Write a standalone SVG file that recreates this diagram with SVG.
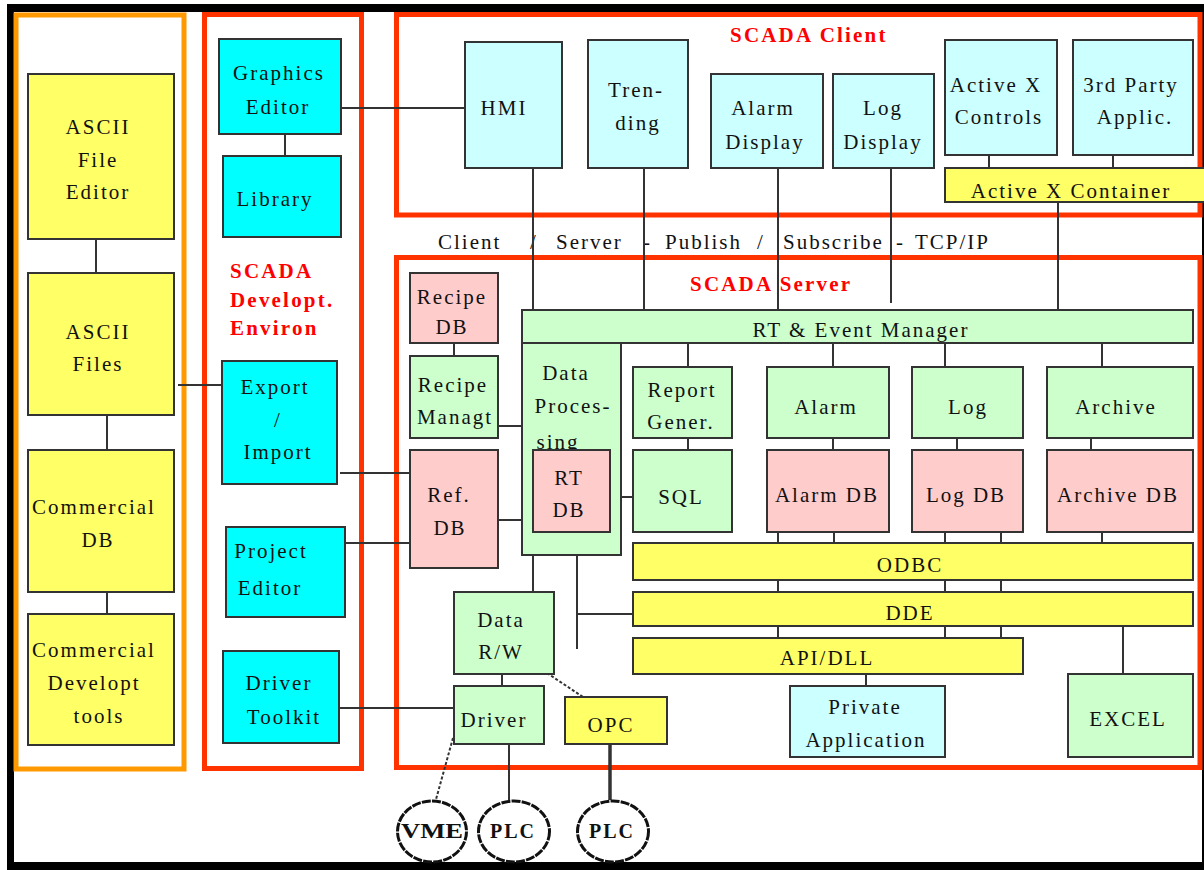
<svg xmlns="http://www.w3.org/2000/svg" width="1204" height="870" viewBox="0 0 1204 870">
<defs>
<style>
.bx{stroke:#333;stroke-width:2}
.yl{fill:#FFFF66}
.cy{fill:#00FFFF}
.lc{fill:#CCFFFF}
.gr{fill:#CCFFCC}
.pk{fill:#FFCCCC}
.grp{fill:none;stroke-width:5}
.red{stroke:#FF3300}
.org{stroke:#FF9900}
text{font-family:"Liberation Serif","Times New Roman",serif;font-size:21px;fill:#111;letter-spacing:2px;text-anchor:middle}
.lbl{font-weight:bold;fill:#FF0000;font-size:21px;text-anchor:start;letter-spacing:2.2px}
.bold{font-weight:bold;font-size:20px}
.cn line,.cn path{stroke:#333;stroke-width:2;fill:none}
.cn .dot{stroke-dasharray:3 2}
.cn .thick{stroke-width:3.5}
.el{fill:#fff;stroke:#111;stroke-width:3;stroke-dasharray:9 1.2}
</style>
</defs>
<rect width="1204" height="870" fill="#fff"/>
<!-- outer frame -->
<g id="frame" fill="#000">
<rect x="7" y="4" width="1197" height="8"/>
<rect x="7" y="4" width="7" height="866"/>
<rect x="7" y="862" width="1197" height="8"/>
<rect x="1202" y="4" width="2" height="866"/>
</g>
<!-- group frames -->
<g id="tools-frame"><rect class="grp org" x="16" y="15" width="168" height="754"/></g>
<g id="dev-frame"><rect class="grp red" x="204.5" y="14.5" width="157" height="754"/>
<text class="lbl" x="230" y="278">SCADA</text>
<text class="lbl" x="230" y="307">Developt.</text>
<text class="lbl" x="230" y="335">Environ</text></g>
<g id="client-frame"><rect class="grp red" x="396.5" y="14.5" width="803.5" height="200.5"/>
<text class="lbl" x="730" y="42">SCADA Client</text></g>
<g id="server-frame"><rect class="grp red" x="396.5" y="257.5" width="803.5" height="510"/>
<text class="lbl" x="690" y="291">SCADA Server</text></g>
<g id="protocol-label">
<text style="text-anchor:start" x="438" y="249">Client</text>
<text style="text-anchor:start" x="530" y="249">/</text>
<text style="text-anchor:start" x="556" y="249">Server</text>
<text style="text-anchor:start" x="643" y="249">-</text>
<text style="text-anchor:start" x="665" y="249">Publish</text>
<text style="text-anchor:start" x="757" y="249">/</text>
<text style="text-anchor:start" x="783" y="249">Subscribe</text>
<text style="text-anchor:start" x="896" y="249">-</text>
<text style="text-anchor:start" x="915" y="249">TCP/IP</text>
</g>
<!-- connectors -->
<g id="connectors" class="cn">
<line x1="341" y1="108" x2="465" y2="108"/>
<line x1="285" y1="134" x2="285" y2="156"/>
<line x1="96" y1="239" x2="96" y2="273"/>
<line x1="107" y1="415" x2="107" y2="450"/>
<line x1="107" y1="592" x2="107" y2="614"/>
<line x1="178" y1="385" x2="222" y2="385"/>
<line x1="340" y1="473" x2="410" y2="473"/>
<line x1="345" y1="543" x2="410" y2="543"/>
<line x1="339" y1="708" x2="454" y2="708"/>
<line x1="533" y1="168" x2="533" y2="310"/>
<line x1="644" y1="168" x2="644" y2="310"/>
<line x1="778" y1="168" x2="778" y2="310"/>
<line x1="891" y1="168" x2="891" y2="303"/>
<line x1="1058" y1="202" x2="1058" y2="310"/>
<line x1="989" y1="155" x2="989" y2="168"/>
<line x1="1113" y1="155" x2="1113" y2="168"/>
<line x1="454" y1="343" x2="454" y2="356"/>
<line x1="498" y1="426" x2="522" y2="426"/>
<line x1="498" y1="520" x2="533" y2="520"/>
<line x1="597" y1="497" x2="633" y2="497"/>
<line x1="688" y1="343" x2="688" y2="367"/>
<line x1="688" y1="438" x2="688" y2="450"/>
<line x1="833" y1="343" x2="833" y2="367"/>
<line x1="945" y1="343" x2="945" y2="367"/>
<line x1="1102" y1="343" x2="1102" y2="367"/>
<line x1="833" y1="438" x2="833" y2="450"/>
<line x1="957" y1="438" x2="957" y2="450"/>
<line x1="1091" y1="438" x2="1091" y2="450"/>
<line x1="778" y1="532" x2="778" y2="543"/>
<line x1="834" y1="532" x2="834" y2="543"/>
<line x1="945" y1="532" x2="945" y2="543"/>
<line x1="1001" y1="532" x2="1001" y2="543"/>
<line x1="1102" y1="532" x2="1102" y2="543"/>
<line x1="778" y1="580" x2="778" y2="592"/>
<line x1="945" y1="580" x2="945" y2="592"/>
<line x1="1001" y1="580" x2="1001" y2="592"/>
<line x1="778" y1="626" x2="778" y2="638"/>
<line x1="945" y1="626" x2="945" y2="638"/>
<line x1="1001" y1="626" x2="1001" y2="638"/>
<line x1="1123" y1="626" x2="1123" y2="674"/>
<line x1="866" y1="674" x2="866" y2="686"/>
<line x1="577" y1="532" x2="577" y2="649"/>
<line x1="577" y1="614" x2="633" y2="614"/>
<line x1="533" y1="555" x2="533" y2="592"/>
<line x1="502" y1="674" x2="502" y2="686"/>
<line class="dot" x1="547" y1="673" x2="583" y2="697"/>
<line class="dot" x1="453" y1="738" x2="435" y2="803"/>
<line x1="509" y1="744" x2="509" y2="800"/>
<line class="thick" x1="610" y1="744" x2="610" y2="800"/>
</g>
<!-- left tools -->
<g id="ascii-file-editor"><rect class="bx yl" x="28" y="74" width="146" height="165"/>
<text x="98" y="134">ASCII</text><text x="98" y="167">File</text><text x="98" y="199">Editor</text></g>
<g id="ascii-files"><rect class="bx yl" x="28" y="273" width="146" height="142"/>
<text x="98" y="339">ASCII</text><text x="98" y="371">Files</text></g>
<g id="commercial-db"><rect class="bx yl" x="28" y="450" width="146" height="142"/>
<text x="94" y="514">Commercial</text><text x="98" y="547">DB</text></g>
<g id="commercial-tools"><rect class="bx yl" x="28" y="614" width="146" height="131"/>
<text x="94" y="657">Commercial</text><text x="94" y="690">Developt</text><text x="99" y="723">tools</text></g>
<!-- dev env -->
<g id="graphics-editor"><rect class="bx cy" x="219" y="39" width="122" height="95"/>
<text x="279" y="80">Graphics</text><text x="278" y="114">Editor</text></g>
<g id="library"><rect class="bx cy" x="223" y="156" width="118" height="81"/>
<text x="275" y="206">Library</text></g>
<g id="export-import"><rect class="bx cy" x="222" y="361" width="115" height="123"/>
<text x="275" y="394">Export</text><text x="278" y="427">/</text><text x="278" y="459">Import</text></g>
<g id="project-editor"><rect class="bx cy" x="226" y="527" width="119" height="90"/>
<text x="271" y="558">Project</text><text x="270" y="595">Editor</text></g>
<g id="driver-toolkit"><rect class="bx cy" x="223" y="651" width="116" height="92"/>
<text x="279" y="690">Driver</text><text x="284" y="724">Toolkit</text></g>
<!-- client -->
<g id="hmi"><rect class="bx lc" x="465" y="42" width="97" height="126"/>
<text x="504" y="115">HMI</text></g>
<g id="trending"><rect class="bx lc" x="588" y="40" width="100" height="128"/>
<text x="636" y="97">Tren-</text><text x="638" y="130">ding</text></g>
<g id="alarm-display"><rect class="bx lc" x="711" y="74" width="112" height="94"/>
<text x="763" y="115">Alarm</text><text x="765" y="149">Display</text></g>
<g id="log-display"><rect class="bx lc" x="833" y="74" width="101" height="94"/>
<text x="883" y="115">Log</text><text x="883" y="149">Display</text></g>
<g id="activex-controls"><rect class="bx lc" x="945" y="40" width="112" height="115"/>
<text x="996" y="92">Active X</text><text x="999" y="124">Controls</text></g>
<g id="third-party"><rect class="bx lc" x="1073" y="40" width="120" height="115"/>
<text x="1131" y="92">3rd Party</text><text x="1135" y="124">Applic.</text></g>
<g id="activex-container"><rect class="bx yl" x="945" y="168" width="262" height="34"/>
<text x="1071" y="198">Active X Container</text></g>
<!-- server -->
<g id="recipe-db"><rect class="bx pk" x="410" y="273" width="88" height="70"/>
<text x="452" y="304">Recipe</text><text x="452" y="334">DB</text></g>
<g id="recipe-managt"><rect class="bx gr" x="410" y="356" width="88" height="82"/>
<text x="453" y="392">Recipe</text><text x="455" y="424">Managt</text></g>
<g id="rt-event-manager"><rect class="bx gr" x="522" y="310" width="671" height="33"/>
<text x="861" y="337">RT &amp; Event Manager</text></g>
<g id="data-processing"><rect class="bx gr" x="522" y="343" width="99" height="212"/>
<text x="566" y="380">Data</text><text x="573" y="413">Proces-</text><text x="558" y="449">sing</text></g>
<g id="rt-db"><rect class="bx pk" x="533" y="450" width="77" height="82"/>
<text x="569" y="485">RT</text><text x="569" y="517">DB</text></g>
<g id="ref-db"><rect class="bx pk" x="410" y="450" width="88" height="118"/>
<text x="449" y="502">Ref.</text><text x="450" y="535">DB</text></g>
<g id="report-gener"><rect class="bx gr" x="633" y="367" width="99" height="71"/>
<text x="682" y="397">Report</text><text x="681" y="429">Gener.</text></g>
<g id="sql"><rect class="bx gr" x="633" y="450" width="99" height="82"/>
<text x="681" y="504">SQL</text></g>
<g id="alarm"><rect class="bx gr" x="767" y="367" width="122" height="71"/>
<text x="826" y="414">Alarm</text></g>
<g id="alarm-db"><rect class="bx pk" x="767" y="450" width="122" height="82"/>
<text x="827" y="502">Alarm DB</text></g>
<g id="log"><rect class="bx gr" x="912" y="367" width="111" height="71"/>
<text x="968" y="414">Log</text></g>
<g id="log-db"><rect class="bx pk" x="912" y="450" width="111" height="82"/>
<text x="966" y="502">Log DB</text></g>
<g id="archive"><rect class="bx gr" x="1047" y="367" width="146" height="71"/>
<text x="1116" y="414">Archive</text></g>
<g id="archive-db"><rect class="bx pk" x="1047" y="450" width="146" height="82"/>
<text x="1118" y="502">Archive DB</text></g>
<g id="odbc"><rect class="bx yl" x="633" y="543" width="560" height="37"/>
<text x="910" y="572">ODBC</text></g>
<g id="dde"><rect class="bx yl" x="633" y="592" width="560" height="34"/>
<text x="910" y="620">DDE</text></g>
<g id="api-dll"><rect class="bx yl" x="633" y="638" width="390" height="36"/>
<text x="827" y="665">API/DLL</text></g>
<g id="private-app"><rect class="bx lc" x="790" y="686" width="155" height="71"/>
<text x="865" y="714">Private</text><text x="866" y="747">Application</text></g>
<g id="excel"><rect class="bx gr" x="1068" y="674" width="125" height="83"/>
<text x="1128" y="726">EXCEL</text></g>
<g id="data-rw"><rect class="bx gr" x="454" y="592" width="100" height="82"/>
<text x="501" y="627">Data</text><text x="501" y="659">R/W</text></g>
<g id="driver"><rect class="bx gr" x="454" y="686" width="90" height="58"/>
<text x="494" y="727">Driver</text></g>
<g id="opc"><rect class="bx yl" x="565" y="697" width="102" height="47"/>
<text x="611" y="732">OPC</text></g>
<g id="vme"><ellipse class="el" cx="432" cy="831.5" rx="34.5" ry="30.5"/>
<text class="bold" x="432" y="838" style="letter-spacing:0" textLength="62" lengthAdjust="spacingAndGlyphs">VME</text></g>
<g id="plc1"><ellipse class="el" cx="514" cy="831.5" rx="35.5" ry="30.5"/>
<text class="bold" x="513" y="838">PLC</text></g>
<g id="plc2"><ellipse class="el" cx="613" cy="831.5" rx="35.5" ry="30.5"/>
<text class="bold" x="612" y="838">PLC</text></g>
</svg>
